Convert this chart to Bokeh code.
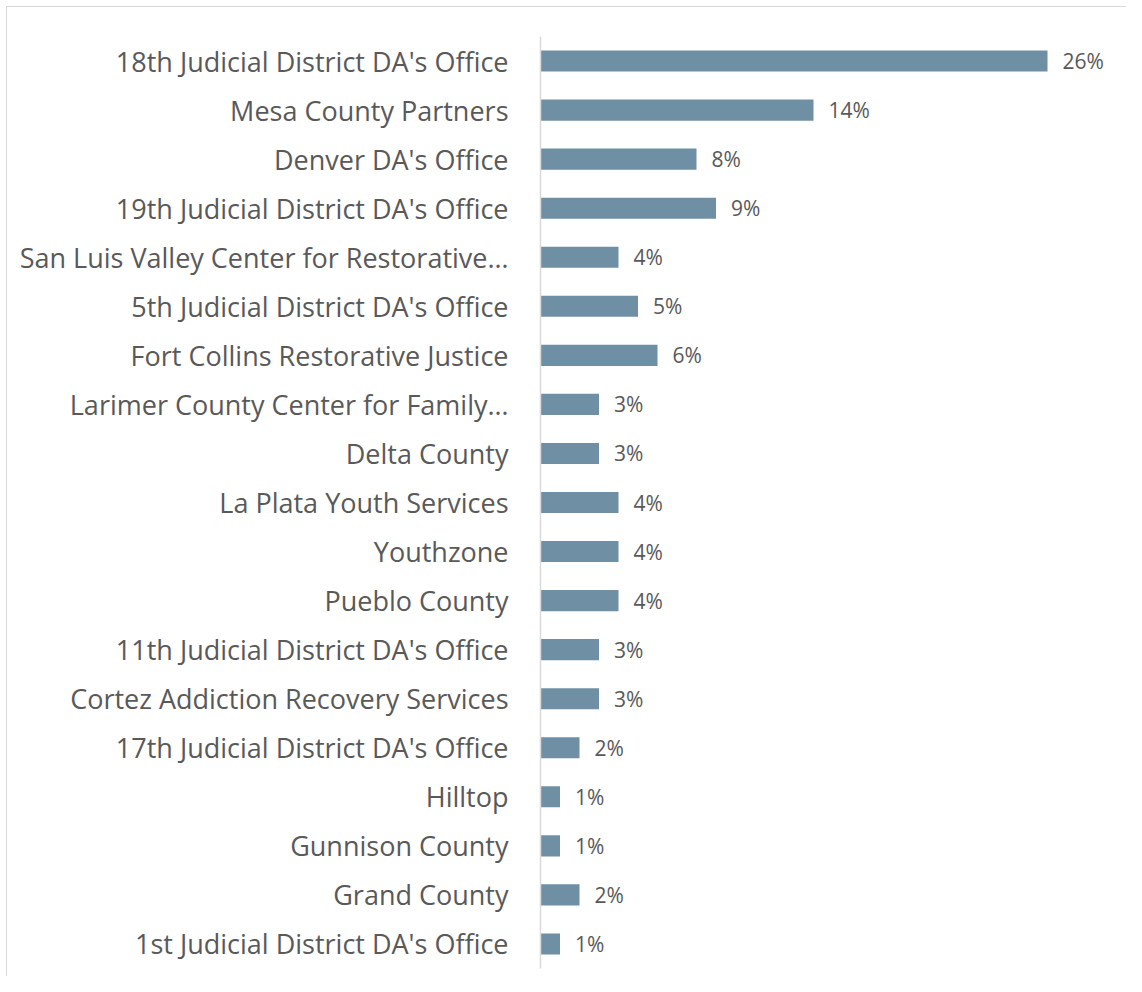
from bokeh.plotting import figure
from bokeh.models import ColumnDataSource, Range1d, FactorRange
from bokeh.embed import file_html
from bokeh.resources import INLINE
from bokeh.core.properties import value

categories = [
    "18th Judicial District DA's Office",
    "Mesa County Partners",
    "Denver DA's Office",
    "19th Judicial District DA's Office",
    "San Luis Valley Center for Restorative…",
    "5th Judicial District DA's Office",
    "Fort Collins Restorative Justice",
    "Larimer County Center for Family…",
    "Delta County",
    "La Plata Youth Services",
    "Youthzone",
    "Pueblo County",
    "11th Judicial District DA's Office",
    "Cortez Addiction Recovery Services",
    "17th Judicial District DA's Office",
    "Hilltop",
    "Gunnison County",
    "Grand County",
    "1st Judicial District DA's Office",
]
percents = [26, 14, 8, 9, 4, 5, 6, 3, 3, 4, 4, 4, 3, 3, 2, 1, 1, 2, 1]
labels = [f"{v}%" for v in percents]

src = ColumnDataSource(dict(cat=categories, val=percents, lab=labels))

FONT = "Open Sans"
GRAY = "#595959"

p = figure(
    y_range=FactorRange(*categories[::-1]),
    x_range=Range1d(0, 29.23),
    width=1126, height=976,
    min_border_left=540, min_border_right=16,
    min_border_top=36, min_border_bottom=8,
    output_backend="svg", toolbar_location=None,
)
p.styles = {
    "background": "linear-gradient(#d9d9d9,#d9d9d9) 6px 6px / 1px 100% no-repeat, "
                  "linear-gradient(#d9d9d9,#d9d9d9) 6px 6px / 100% 1px no-repeat, white",
}
p.outline_line_color = None
p.background_fill_color = "white"
p.border_fill_color = None

p.hbar(y="cat", right="val", left=0, height=0.43, source=src,
       fill_color="#6F8FA4", line_color=None)
p.text(x="val", y="cat", text="lab", source=src, x_offset=15,
       text_align="left", text_baseline="middle",
       text_font=value(FONT), text_font_size="21px", text_color=GRAY)

p.xaxis.visible = False
p.xgrid.grid_line_color = None
p.ygrid.grid_line_color = None

ya = p.yaxis[0]
ya.axis_line_color = "#d9d9d9"
ya.axis_line_width = 1.5
ya.major_tick_line_color = None
ya.minor_tick_line_color = None
ya.major_label_standoff = 26
ya.major_label_text_font = FONT
ya.major_label_text_font_size = "27px"
ya.major_label_text_color = GRAY

open("out.html", "w").write(file_html(p, INLINE))
